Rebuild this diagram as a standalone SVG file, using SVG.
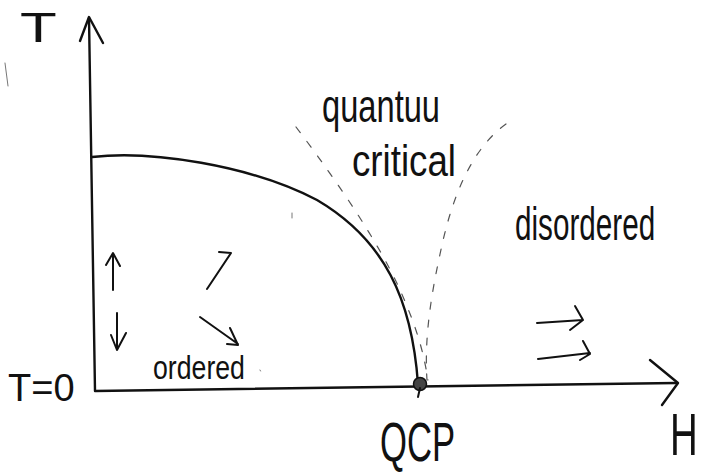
<svg xmlns="http://www.w3.org/2000/svg" width="705" height="472" viewBox="0 0 705 472">
<style>
.ink{fill:none;stroke:#111;stroke-width:2.4;stroke-linecap:round;stroke-linejoin:round}
.thin{fill:none;stroke:#111;stroke-width:2;stroke-linecap:round;stroke-linejoin:round}
.dash{fill:none;stroke:#555;stroke-width:1.2;stroke-dasharray:7 11;stroke-linecap:round}
.faint{fill:none;stroke:#777;stroke-width:1;stroke-linecap:round}
.lbl{font-family:"Liberation Sans","DejaVu Sans",sans-serif;fill:#111;font-weight:normal}
</style>
<rect width="705" height="472" fill="#fff"/>
<g id="axes">
  <path class="ink" d="M89,18 L95,391 L676,383"/>
  <path class="ink" d="M80,41 L89,17 L103,43"/>
  <path class="ink" d="M650,360 L678,383 L662,405"/>
</g>
<g id="connectors">
  <path id="phase-boundary" class="ink" d="M92,157 C150,150 250,165 317,200 C385,240 412,300 418,384"/>
  <path id="crossover-left" class="dash" d="M296,127 C340,185 380,245 400,290 C418,330 424,355 428,380"/>
  <path id="crossover-right" class="dash" d="M506,124 C470,150 452,200 442,245 C432,290 424,335 427,380"/>
</g>
<g id="qcp">
  <circle cx="420" cy="384" r="6.5" fill="#444" stroke="#111" stroke-width="1.5"/>
  <path class="thin" d="M420,388 L418,397"/>
  <text class="lbl" transform="translate(380,461) scale(0.63,1)" font-size="55">QCP</text>
</g>
<g id="spin-arrows">
  <path class="thin" d="M113,290 L113,254 M106,265 L113,253 L120,266"/>
  <path class="thin" d="M117,313 L117,350 M111,335 L117,350 L126,333"/>
  <path class="thin" d="M207,289 L231,253 L219,252"/>
  <path class="thin" d="M200,317 L238,344 M230,328 L238,345 L227,344"/>
  <path class="thin" d="M537,323 L583,320 M575,306 L583,320 L570,330"/>
  <path class="thin" d="M538,359 L590,353 M583,341 L590,354 L580,360"/>
</g>
<g id="labels">
  <text class="lbl" transform="translate(20,42) scale(1.4,1)" font-size="43">T</text>
  <text class="lbl" x="8" y="401" font-size="38">T=0</text>
  <text class="lbl" transform="translate(670,455) scale(0.64,1)" font-size="60">H</text>
  <text class="lbl" transform="translate(322,122) scale(0.71,1)" font-size="46">quantuu</text>
  <text class="lbl" transform="translate(352,176) scale(0.834,1)" font-size="44">critical</text>
  <text class="lbl" transform="translate(515,240) scale(0.645,1)" font-size="46">disordered</text>
  <text class="lbl" transform="translate(153,379) scale(0.785,1)" font-size="34">ordered</text>
</g>
<g id="marks">
  <path class="faint" d="M5,63 L8,86 M292,213 L292,218 M260,370 L260.5,371"/>
</g>
</svg>
